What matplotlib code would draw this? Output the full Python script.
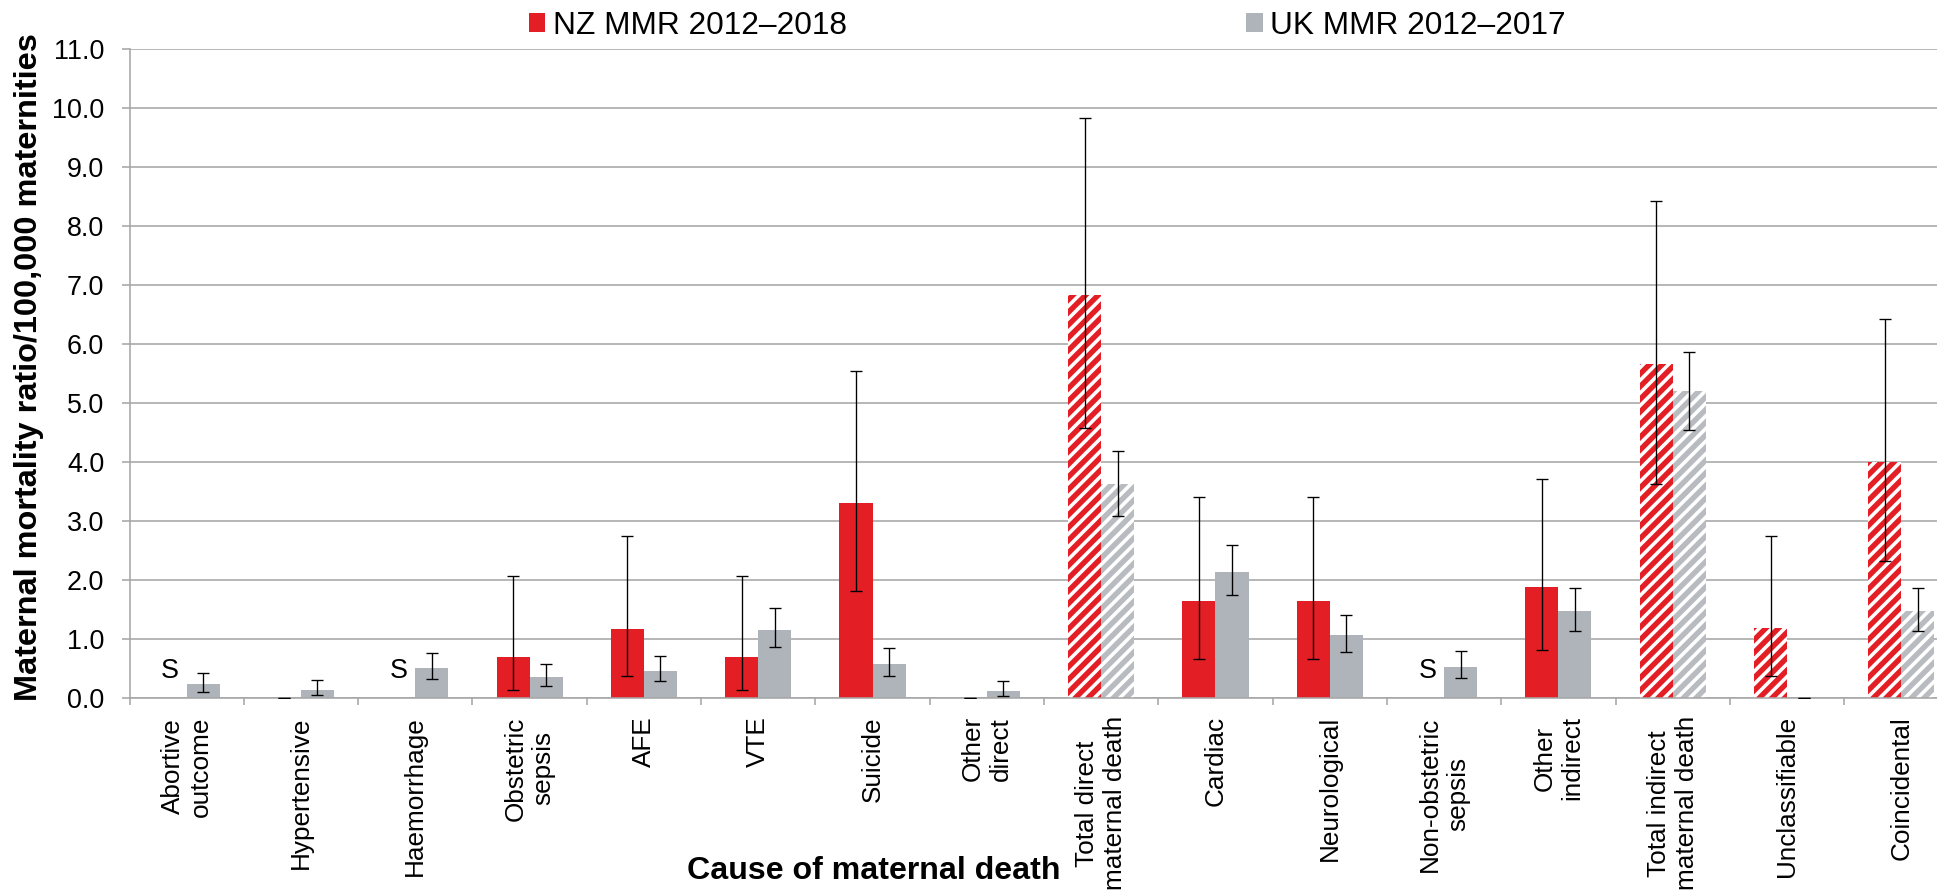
import numpy as np
import matplotlib
matplotlib.use("Agg")
import matplotlib.pyplot as plt
from matplotlib.patches import Patch


DPI = 114
plt.rcParams['font.family'] = ['Liberation Sans', 'DejaVu Sans']
plt.rcParams['hatch.linewidth'] = 3.4

# Data
categories = ['Abortive\noutcome', 'Hypertensive', 'Haemorrhage', 'Obstetric\nsepsis',
              'AFE', 'VTE', 'Suicide', 'Other\ndirect', 'Total direct\nmaternal death',
              'Cardiac', 'Neurological', 'Non-obstetric\nsepsis', 'Other\nindirect',
              'Total indirect\nmaternal death', 'Unclassifiable', 'Coincidental']

# None = suppressed (shown as "S")
nz_rate = [None, 0.0, None, 0.70, 1.17, 0.70, 3.30, 0.0, 6.84, 1.65, 1.65, None, 1.88, 5.66, 1.18, 4.00]
nz_low = [None, 0.0, None, 0.14, 0.37, 0.14, 1.81, 0.0, 4.58, 0.66, 0.66, None, 0.81, 3.63, 0.37, 2.33]
nz_high = [None, 0.0, None, 2.07, 2.75, 2.07, 5.55, 0.0, 9.83, 3.40, 3.40, None, 3.71, 8.43, 2.75, 6.43]

uk_rate = [0.23, 0.14, 0.51, 0.36, 0.46, 1.16, 0.58, 0.12, 3.63, 2.14, 1.06, 0.53, 1.47, 5.21, 0.0, 1.47]
uk_low = [0.11, 0.05, 0.32, 0.20, 0.29, 0.87, 0.37, 0.04, 3.08, 1.74, 0.78, 0.34, 1.14, 4.55, 0.0, 1.14]
uk_high = [0.42, 0.31, 0.77, 0.58, 0.71, 1.53, 0.85, 0.28, 4.19, 2.60, 1.41, 0.80, 1.87, 5.87, 0.0, 1.87]

# totals / other categories drawn with stripes
striped = [False] * 8 + [True, False, False, False, False, True, True, True]

series_labels = ['NZ MMR 2012\u20132018', 'UK MMR 2012\u20132017']

RED = '#e31e24'
GREY = '#aeb4b9'
GREY_STRIPE = '#b8bcc0'
GRID = '#a6a6a6'


def to_arr(vals):
    return np.array([np.nan if v is None else v for v in vals], dtype=float)


fig = plt.figure(figsize=(1937 / DPI, 890 / DPI), dpi=DPI)
ax = fig.add_axes([129.5 / 1937, 1 - 698 / 890, 1829 / 1937, (698 - 49.3) / 890])

x = np.arange(len(categories))
w = 0.289

series = [
    (to_arr(nz_rate), to_arr(nz_low), to_arr(nz_high), -w / 2, RED, RED),
    (to_arr(uk_rate), to_arr(uk_low), to_arr(uk_high), w / 2, GREY, GREY_STRIPE),
]

for rate, lo, hi, off, col, stripe_col in series:
    for i in range(len(categories)):
        if np.isnan(rate[i]):
            continue
        if striped[i]:
            ax.bar(x[i] + off, rate[i], w, facecolor='white', edgecolor=stripe_col,
                   hatch='///', linewidth=0, zorder=2)
        else:
            ax.bar(x[i] + off, rate[i], w, color=col, linewidth=0, zorder=2)
    ax.errorbar(x + off, np.nan_to_num(rate), yerr=[rate - lo, hi - rate], fmt='none',
                ecolor='black', elinewidth=0.85, capsize=3.8, capthick=0.85, zorder=3)

# suppressed values
for i, v in enumerate(nz_rate):
    if v is None:
        ax.text(x[i] - w / 2, 0.46, 'S', ha='center', va='center', fontsize=17)

ax.set_xlim(-0.5, len(categories) - 0.5)
ax.set_ylim(0, 11)
ax.set_yticks(np.arange(0, 11.5, 1))
ax.set_yticklabels([f'{v:.1f}' for v in np.arange(0, 11.5, 1)], fontsize=17)
ax.set_xticks(x)
ax.set_xticklabels(categories, rotation=90, ha='center', va='top', fontsize=16.5)
ax.set_xticks(np.arange(-0.5, len(categories), 1), minor=True)

ax.tick_params(axis='x', which='major', length=0, pad=11.5)
ax.tick_params(axis='x', which='minor', length=4.5, width=1.0, color=GRID)
ax.tick_params(axis='y', length=5, width=1.0, color=GRID, pad=11)

ax.yaxis.grid(True, color=GRID, linewidth=1.0)
ax.set_axisbelow(True)
for side in ['top', 'right']:
    ax.spines[side].set_visible(False)
for side in ['left', 'bottom']:
    ax.spines[side].set_color(GRID)
    ax.spines[side].set_linewidth(1.0)

fig.text(29 / 1937, 1 - 367 / 890, 'Maternal mortality ratio/100,000 maternities',
         rotation=90, ha='center', va='center', fontsize=20.5, fontweight='bold')
fig.text(874 / 1937, 1 - 871 / 890, 'Cause of maternal death',
         ha='center', va='center', fontsize=20.3, fontweight='bold')

handles = [Patch(facecolor=RED, edgecolor='none'), Patch(facecolor=GREY, edgecolor='none')]
fig.legend(handles, series_labels, ncol=2, loc='center left',
           bbox_to_anchor=(529 / 1937, 1 - 25.5 / 890), frameon=False, fontsize=20,
           handlelength=0.52, handleheight=0.54, handletextpad=0.24,
           columnspacing=12.6, borderpad=0, borderaxespad=0)

fig.savefig('out.png', dpi=DPI)
